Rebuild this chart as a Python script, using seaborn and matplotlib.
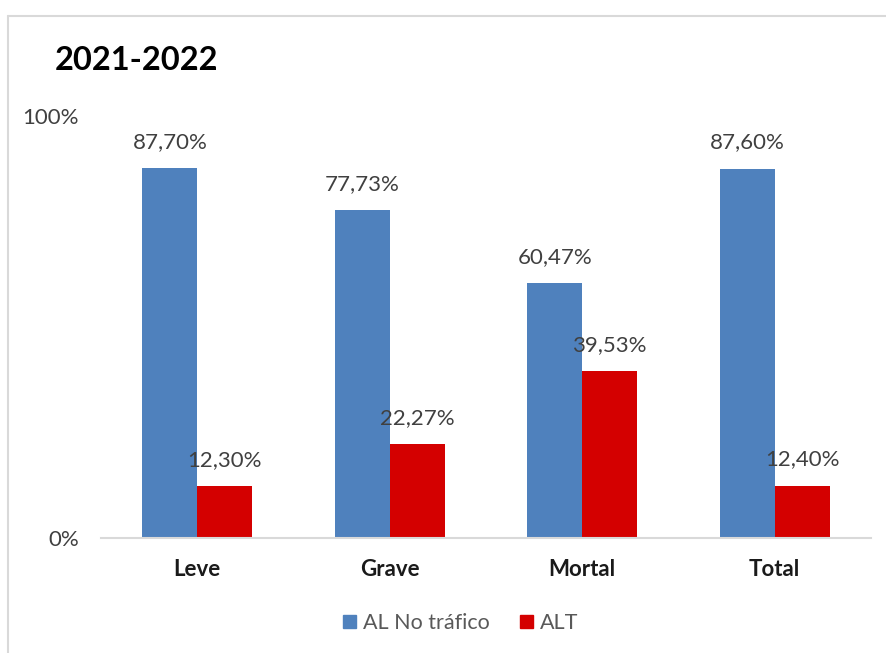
import pandas as pd
import matplotlib.pyplot as plt
import seaborn as sns
from matplotlib.lines import Line2D

categories = ['Leve', 'Grave', 'Mortal', 'Total']
no_trafico = [87.70, 77.73, 60.47, 87.60]
alt = [12.30, 22.27, 39.53, 12.40]
series_names = ['AL No tráfico', 'ALT']

df = pd.DataFrame({
    'categoria': categories * 2,
    'serie': [series_names[0]] * 4 + [series_names[1]] * 4,
    'valor': [v / 100 for v in no_trafico + alt],
})

sns.set_style('white')
plt.rcParams['font.family'] = ['Lato', 'DejaVu Sans']

fig = plt.figure(figsize=(8.86, 6.53), dpi=100)
ax = fig.add_axes([0.114, 0.176, 0.869, 0.646])

palette = {'AL No tráfico': '#4F81BD', 'ALT': '#D40000'}
sns.barplot(data=df, x='categoria', y='valor', hue='serie', palette=palette,
            width=0.57, saturation=1, linewidth=0, ax=ax, legend=False)

ax.set_ylim(0, 1)
ax.set_xlim(-0.5, 3.5)
ax.set_yticks([0, 1])
ax.set_yticklabels(['0%', '100%'], fontsize=16, color='#404040')
ax.set_xlabel('')
ax.set_ylabel('')
ax.tick_params(axis='x', length=0, pad=15, labelsize=16)
ax.tick_params(axis='y', length=0, pad=16)
for lab in ax.get_xticklabels():
    lab.set_fontweight('bold')
    lab.set_color('#1a1a1a')

for side in ['top', 'right', 'left']:
    ax.spines[side].set_visible(False)
ax.spines['bottom'].set_color('#d9d9d9')
ax.spines['bottom'].set_linewidth(1.5)

for container in ax.containers:
    for bar in container:
        h = bar.get_height()
        txt = f'{h * 100:.2f}%'.replace('.', ',')
        ax.annotate(txt, (bar.get_x() + bar.get_width() / 2, h),
                    xytext=(0, 19), textcoords='offset points',
                    ha='center', va='center', fontsize=16, color='#404040')

fig.text(0.062, 0.907, '2021-2022', fontsize=23.5, fontweight='bold',
         color='black', va='center', ha='left')

handles = [plt.Rectangle((0, 0), 1, 1, color=palette[s]) for s in series_names]
fig.legend(handles, series_names, loc='center', bbox_to_anchor=(0.52, 0.046),
           ncol=2, frameon=False, fontsize=15.5, handlelength=0.6,
           handleheight=0.6, handletextpad=0.35, columnspacing=1.4,
           labelcolor='#595959')

fig.add_artist(Line2D([7.5 / 886, 1], [1 - 15.5 / 653, 1 - 15.5 / 653],
                      transform=fig.transFigure, color='#d9d9d9', lw=1.5))
fig.add_artist(Line2D([7.5 / 886, 7.5 / 886], [0, 1 - 15.5 / 653],
                      transform=fig.transFigure, color='#d9d9d9', lw=1.5))

fig.savefig('out.png', dpi=100)
